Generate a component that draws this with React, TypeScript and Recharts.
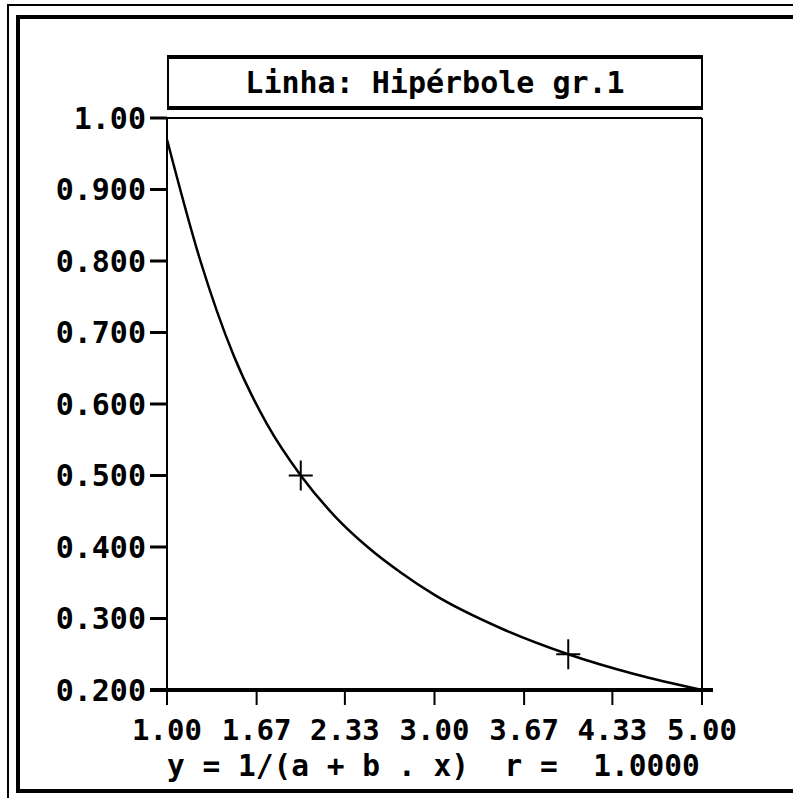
import React from 'react';
import { ComposedChart, Line, Scatter, XAxis, YAxis, ReferenceLine } from 'recharts';

// values
const curveX = [1, 1.25, 1.5, 1.75, 2, 2.25, 2.5, 2.75, 3, 3.5, 4, 4.5, 5];
const curveY = [0.97, 0.8, 0.667, 0.571, 0.5, 0.444, 0.4, 0.364, 0.333, 0.286, 0.25, 0.222, 0.2];

// the "+" markers
const markX = [2, 4];
const markY = [0.5, 0.25];

const xTicks = [1, 1.67, 2.33, 3, 3.67, 4.33, 5];
const xTickLabels = ['1.00', '1.67', '2.33', '3.00', '3.67', '4.33', '5.00'];
const yTicks = [0.2, 0.3, 0.4, 0.5, 0.6, 0.7, 0.8, 0.9, 1];
const yTickLabels = ['0.200', '0.300', '0.400', '0.500', '0.600', '0.700', '0.800', '0.900', '1.00'];

const titleText = 'Linha: Hipérbole gr.1';
const formulaText = 'y = 1/(a + b . x)  r =  1.0000';

const curve = curveX.map((x, i) => ({ x, y: curveY[i] }));
const marks = markX.map((x, i) => ({ x, y: markY[i] }));

const mono = '"DejaVu Sans Mono", "Liberation Mono", monospace';

const Plus = (props: any) => {
  const { cx, cy } = props;
  return (
    <g stroke="#000" strokeWidth={2}>
      <line x1={cx - 12} x2={cx + 12} y1={cy} y2={cy} />
      <line x1={cx} x2={cx} y1={cy - 15} y2={cy + 15} />
    </g>
  );
};

const bar = (left: number, top: number, width: number, height: number) => (
  <div style={{ position: 'absolute', left, top, width, height, background: '#000' }} />
);

const App = () => {
  return (
    <div style={{ position: 'absolute', left: 0, top: 0, width: 793, height: 798, background: '#fff', overflow: 'hidden' }}>
      <ComposedChart
        width={793}
        height={798}
        data={curve}
        margin={{ top: 118, right: 91, bottom: 48, left: 0 }}
      >
        <XAxis
          type="number"
          dataKey="x"
          domain={[1, 5]}
          ticks={xTicks}
          interval={0}
          height={60}
          tickSize={15}
          tickMargin={14}
          axisLine={{ stroke: '#000', strokeWidth: 4 }}
          tickLine={{ stroke: '#000', strokeWidth: 2 }}
          tick={{ fill: '#000', fontSize: 29, fontWeight: 'bold', fontFamily: mono }}
          tickFormatter={(v: number) => xTickLabels[xTicks.indexOf(v)]}
        />
        <YAxis
          type="number"
          dataKey="y"
          domain={[0.2, 1]}
          ticks={yTicks}
          interval={0}
          width={167}
          tickSize={17}
          tickMargin={4}
          axisLine={{ stroke: '#000', strokeWidth: 2 }}
          tickLine={{ stroke: '#000', strokeWidth: 3 }}
          tick={{ fill: '#000', fontSize: 30, fontWeight: 'bold', fontFamily: mono }}
          tickFormatter={(v: number) => yTickLabels[yTicks.indexOf(v)]}
        />
        <ReferenceLine y={1} stroke="#000" strokeWidth={2} />
        <ReferenceLine x={5} stroke="#000" strokeWidth={2} />
        <Line
          type="monotone"
          dataKey="y"
          stroke="#000"
          strokeWidth={2.5}
          dot={false}
          isAnimationActive={false}
        />
        <Scatter data={marks} dataKey="y" shape={<Plus />} isAnimationActive={false} />
      </ComposedChart>

      {/* outer double frame */}
      {bar(7, 4, 786, 2)}
      {bar(7, 4, 2, 794)}
      {bar(16, 15, 777, 4)}
      {bar(16, 15, 4, 778)}
      {bar(16, 789, 777, 4)}

      {/* x axis line overhang */}
      {bar(150, 688, 17, 4)}
      {bar(702, 688, 11, 4)}

      {/* title box */}
      <div
        style={{
          position: 'absolute',
          left: 167,
          top: 55,
          width: 536,
          height: 55,
          boxSizing: 'border-box',
          borderTop: '4px solid #000',
          borderBottom: '4px solid #000',
          borderLeft: '2px solid #000',
          borderRight: '2px solid #000',
          textAlign: 'center',
          fontFamily: mono,
          fontWeight: 'bold',
          fontSize: 30,
          lineHeight: '47px',
          color: '#000',
        }}
      >
        {titleText}
      </div>

      {/* regression formula */}
      <div
        style={{
          position: 'absolute',
          left: 167,
          top: 749,
          fontFamily: mono,
          fontWeight: 'bold',
          fontSize: 29.5,
          lineHeight: '34px',
          whiteSpace: 'pre',
          color: '#000',
        }}
      >
        {formulaText}
      </div>
    </div>
  );
};

export default App;
